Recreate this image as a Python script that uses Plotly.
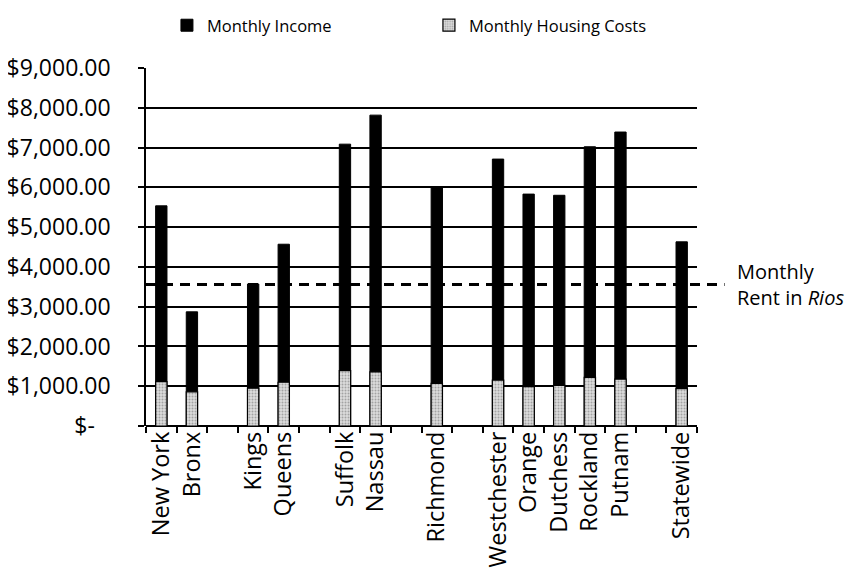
import plotly.graph_objects as go

categories = ["New York", "Bronx", "", "Kings", "Queens", "", "Suffolk", "Nassau", "",
              "Richmond", "", "Westchester", "Orange", "Dutchess", "Rockland", "Putnam", "",
              "Statewide"]
monthly_income = [5535, 2870, None, 3570, 4570, None, 7085, 7815, None,
                  6010, None, 6710, 5830, 5800, 7020, 7390, None, 4630]
housing_costs = [1115, 860, None, 950, 1100, None, 1390, 1360, None,
                 1070, None, 1155, 990, 1020, 1220, 1180, None, 940]
rent_in_rios = 3560
y_ticks = [0, 1000, 2000, 3000, 4000, 5000, 6000, 7000, 8000, 9000]
y_ticktext = ["$-\u00a0\u00a0\u2009", "$1,000.00", "$2,000.00", "$3,000.00", "$4,000.00",
              "$5,000.00", "$6,000.00", "$7,000.00", "$8,000.00", "$9,000.00"]

x = list(range(len(categories)))
label_pos = [i for i, c in enumerate(categories) if c]
label_txt = [c for c in categories if c]

FONT = "Open Sans"

fig = go.Figure()
fig.add_trace(go.Bar(
    x=x, y=monthly_income, name="Monthly Income", width=0.37,
    marker=dict(color="black", line=dict(color="black", width=1)),
))
fig.add_trace(go.Bar(
    x=x, y=housing_costs, name="Monthly Housing Costs", width=0.37,
    marker=dict(color="#d4d4d4", line=dict(color="black", width=1.2),
                pattern=dict(shape=".", fgcolor="#6a6a6a", bgcolor="#dcdcdc",
                             size=3, solidity=0.35)),
))

fig.add_shape(type="line", xref="paper", yref="y", x0=0, x1=1.05,
              y0=rent_in_rios, y1=rent_in_rios,
              line=dict(color="black", width=3, dash="10px,7px"), layer="above")

fig.add_annotation(x=1.0, xref="paper", xshift=38, xanchor="left",
                   y=rent_in_rios, yref="y", yanchor="middle",
                   text="Monthly<br>Rent in <i>Rios</i>", showarrow=False, align="left",
                   font=dict(family=FONT, size=20, color="black"))

fig.update_layout(
    width=845, height=572,
    margin=dict(l=138, r=156, t=60, b=154, autoexpand=False),
    paper_bgcolor="white", plot_bgcolor="white",
    barmode="overlay",
    font=dict(family=FONT, color="black"),
    showlegend=True,
    legend=dict(orientation="h", x=0.038, xanchor="left", y=1.1676, yanchor="top",
                font=dict(family=FONT, size=16.5, color="black"),
                entrywidth=217, entrywidthmode="pixels", itemwidth=30,
                bgcolor="rgba(0,0,0,0)"),
    xaxis=dict(range=[-0.5, len(categories) - 0.5], tickmode="array", automargin=False,
               tickvals=label_pos, ticktext=label_txt, tickangle=-90,
               ticks="", showgrid=False, zeroline=False, showline=False,
               tickfont=dict(family=FONT, size=23.5, color="black"),
               minor=dict(ticks="outside", tick0=-0.5, dtick=1, ticklen=6,
                          tickcolor="black", tickwidth=1.5, showgrid=False)),
    yaxis=dict(range=[0, 9000], tickmode="array", tickvals=y_ticks, ticktext=y_ticktext,
               automargin=False,
               ticks="outside", ticklen=6, tickcolor="black", tickwidth=1.5,
               showgrid=True, gridcolor="black", gridwidth=1.5,
               showline=True, linecolor="black", linewidth=1.5,
               zeroline=True, zerolinecolor="black", zerolinewidth=1.5,
               ticklabelstandoff=23,
               tickfont=dict(family=FONT, size=23, color="black")),
)

fig.write_html("out.html")
